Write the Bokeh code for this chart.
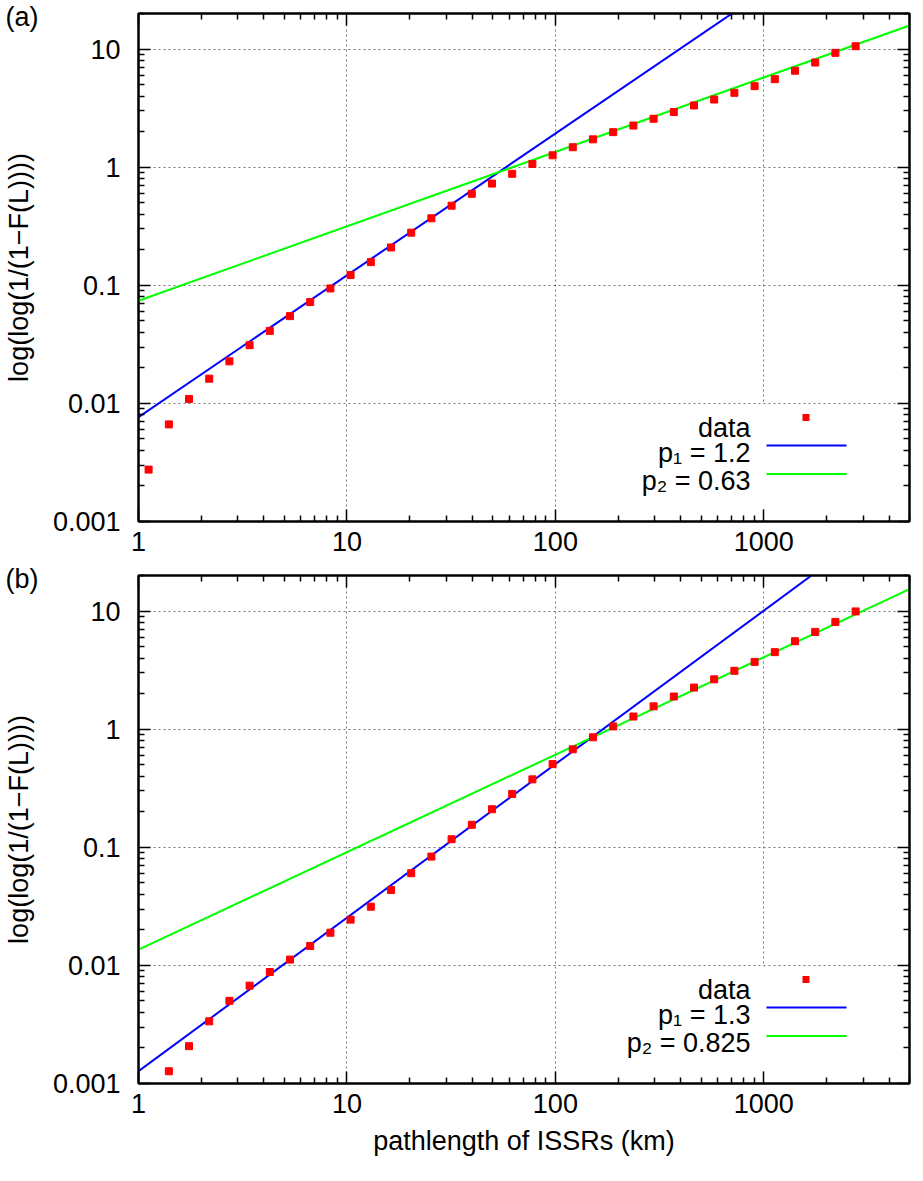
from bokeh.plotting import figure
from bokeh.models import (Range1d, FixedTicker, LogAxis, Label, Arrow,
                          BoxAnnotation, CustomJSTickFormatter)
from bokeh.layouts import column
from bokeh.embed import file_html
from bokeh.resources import INLINE

# ---------------- data ----------------
pathlength_km = [1.118, 1.398, 1.747, 2.184, 2.730, 3.412, 4.265, 5.331, 6.664,
                 8.330, 10.41, 13.02, 16.27, 20.34, 25.42, 31.78, 39.72, 49.65,
                 62.07, 77.58, 96.98, 121.2, 151.5, 189.4, 236.8, 296.0, 370.0,
                 462.5, 578.1, 722.6, 903.3, 1129, 1411, 1764, 2205, 2757]

a_loglog = [0.00275, 0.00664, 0.0109, 0.0162, 0.0227, 0.0311, 0.0411, 0.0548,
            0.0721, 0.094, 0.122, 0.157, 0.209, 0.279, 0.369, 0.472, 0.595,
            0.726, 0.879, 1.064, 1.26, 1.475, 1.72, 1.98, 2.25, 2.57, 2.93,
            3.33, 3.74, 4.26, 4.85, 5.56, 6.56, 7.69, 9.29, 10.57]

b_pathlength_km = pathlength_km[1:]
b_loglog = [0.00127, 0.00207, 0.00336, 0.00501, 0.00674, 0.00879, 0.0112,
            0.0146, 0.0189, 0.0244, 0.0314, 0.0435, 0.0603, 0.0834, 0.117,
            0.155, 0.210, 0.283, 0.376, 0.506, 0.675, 0.853, 1.055, 1.28, 1.56,
            1.89, 2.25, 2.64, 3.12, 3.71, 4.49, 5.55, 6.66, 8.09, 9.93]

a_fit_exponents = [1.2, 0.63]
a_fit_coeffs = [0.00766, 0.074]
a_fit_labels = ["p\u2081 = 1.2", "p\u2082 = 0.63"]

b_fit_exponents = [1.3, 0.825]
b_fit_coeffs = [0.00127, 0.0136]
b_fit_labels = ["p\u2081 = 1.3", "p\u2082 = 0.825"]

x_major = [1, 10, 100, 1000]
x_minor = [m * 10 ** e for e in range(0, 4) for m in range(2, 10) if m * 10 ** e <= 5000]
y_major = [0.001, 0.01, 0.1, 1, 10]
y_minor = [round(m * 10.0 ** e, 6) for e in range(-3, 2) for m in range(2, 10) if m * 10.0 ** e <= 20]

X_LO, X_HI = 1, 5000
Y_LO, Y_HI = 0.001, 20

FONT = "Liberation Sans"
FS = "27px"
BL = 134          # left border
FW = 907 - BL - 2 # frame width
FH = 508          # frame height
FIT_COLORS = ["#0000ff", "#00ff00"]


def style_axis(ax, ticker, labels=True):
    ax.ticker = ticker
    ax.major_tick_in = 12
    ax.major_tick_out = 0
    ax.minor_tick_in = 6
    ax.minor_tick_out = 0
    ax.major_tick_line_width = 1.5
    ax.minor_tick_line_width = 1.5
    ax.axis_line_width = 2
    ax.axis_line_color = "black"
    ax.major_tick_line_color = "black"
    ax.minor_tick_line_color = "black"
    if labels:
        ax.formatter = CustomJSTickFormatter(code="return String(tick)")
        ax.major_label_text_font = FONT
        ax.major_label_text_font_size = FS
        ax.major_label_text_color = "black"
    else:
        ax.formatter = CustomJSTickFormatter(code="return ''")
        ax.major_label_text_font_size = "0px"
        ax.major_label_standoff = 0


def panel(tag, xs, ys, exps, coefs, fit_labels, border_top, border_bottom, xlabel):
    p = figure(x_axis_type="log", y_axis_type="log",
               x_range=Range1d(X_LO, X_HI), y_range=Range1d(Y_LO, Y_HI),
               frame_width=FW, frame_height=FH,
               min_border_left=BL, min_border_right=2,
               min_border_top=border_top, min_border_bottom=border_bottom,
               output_backend="svg", toolbar_location=None,
               background_fill_color="white", border_fill_color="white")
    xt = FixedTicker(ticks=x_major, minor_ticks=x_minor)
    yt = FixedTicker(ticks=y_major, minor_ticks=y_minor)
    style_axis(p.xaxis[0], xt)
    style_axis(p.yaxis[0], yt)
    p.xaxis[0].major_label_standoff = 10
    p.yaxis[0].major_label_standoff = 18
    p.yaxis[0].axis_label = "log(log(1/(1\u2212F(L))))"
    p.yaxis[0].axis_label_standoff = 16
    p.yaxis[0].axis_label_text_font = FONT
    p.yaxis[0].axis_label_text_font_size = FS
    p.yaxis[0].axis_label_text_font_style = "normal"
    p.yaxis[0].axis_label_text_color = "black"
    if xlabel:
        p.xaxis[0].axis_label = xlabel
        p.xaxis[0].axis_label_standoff = 10
        p.xaxis[0].axis_label_text_font = FONT
        p.xaxis[0].axis_label_text_font_size = FS
        p.xaxis[0].axis_label_text_font_style = "normal"
        p.xaxis[0].axis_label_text_color = "black"
    top_ax = LogAxis()
    style_axis(top_ax, FixedTicker(ticks=x_major, minor_ticks=x_minor), labels=False)
    p.add_layout(top_ax, "above")
    right_ax = LogAxis()
    style_axis(right_ax, FixedTicker(ticks=y_major, minor_ticks=y_minor), labels=False)
    p.add_layout(right_ax, "right")

    # panel tag "(a)"/"(b)" as a title pulled down to the frame's top-left corner
    p.title.text = tag
    p.title.align = "left"
    p.title.offset = -BL + 1
    p.title.standoff = -36
    p.title.text_font = FONT
    p.title.text_font_size = FS
    p.title.text_font_style = "normal"
    p.title.text_color = "black"

    p.outline_line_color = "black"
    p.outline_line_width = 2
    for g in (p.xgrid[0], p.ygrid[0]):
        g.grid_line_color = "#777777"
        g.grid_line_dash = "2 3"
        g.grid_line_width = 1

    # legend background (gnuplot key hides the grid)
    p.add_layout(BoxAnnotation(left=FW - 300, right=FW - 45, bottom=13, top=117,
                               left_units="screen", right_units="screen",
                               bottom_units="screen", top_units="screen",
                               fill_color="white", fill_alpha=1.0, line_color=None,
                               level="underlay"))

    # fitted power laws
    for e, c, col in zip(exps, coefs, FIT_COLORS):
        p.line([X_LO, X_HI], [c * X_LO ** e, c * X_HI ** e], line_color=col, line_width=2)

    p.scatter(xs, ys, marker="square", size=7, fill_color="#ff0000",
              line_color="#ff0000")

    # legend (gnuplot style: text right-aligned, sample to the right)
    text_x = FW - 159
    base_y = [94, 69, 41]
    sample_y = [104, 76, 47.5]
    p.add_layout(Label(x=text_x, y=base_y[0], x_units="screen", y_units="screen",
                       text="data", text_align="right", text_baseline="alphabetic",
                       text_font=FONT, text_font_size=FS, text_color="black"))
    p.add_layout(BoxAnnotation(left=FW - 107, right=FW - 100,
                               bottom=sample_y[0] - 3.5, top=sample_y[0] + 3.5,
                               left_units="screen", right_units="screen",
                               bottom_units="screen", top_units="screen",
                               fill_color="#ff0000", fill_alpha=1.0, line_color=None))
    for i, (lab, col) in enumerate(zip(fit_labels, FIT_COLORS)):
        p.add_layout(Label(x=text_x, y=base_y[i + 1], x_units="screen", y_units="screen",
                           text=lab, text_align="right", text_baseline="alphabetic",
                           text_font=FONT, text_font_size=FS, text_color="black"))
        p.add_layout(Arrow(x_start=FW - 143, y_start=sample_y[i + 1],
                           x_end=FW - 63, y_end=sample_y[i + 1],
                           start_units="screen", end_units="screen",
                           start=None, end=None, line_color=col, line_width=2))
    return p


pa = panel("(a)", pathlength_km, a_loglog, a_fit_exponents, a_fit_coeffs,
           a_fit_labels, 13, 41, None)
pb = panel("(b)", b_pathlength_km, b_loglog, b_fit_exponents, b_fit_coeffs,
           b_fit_labels, 13, 82, "pathlength of ISSRs (km)")

layout = column(pa, pb, spacing=0)
open("out.html", "w").write(file_html(layout, INLINE))
